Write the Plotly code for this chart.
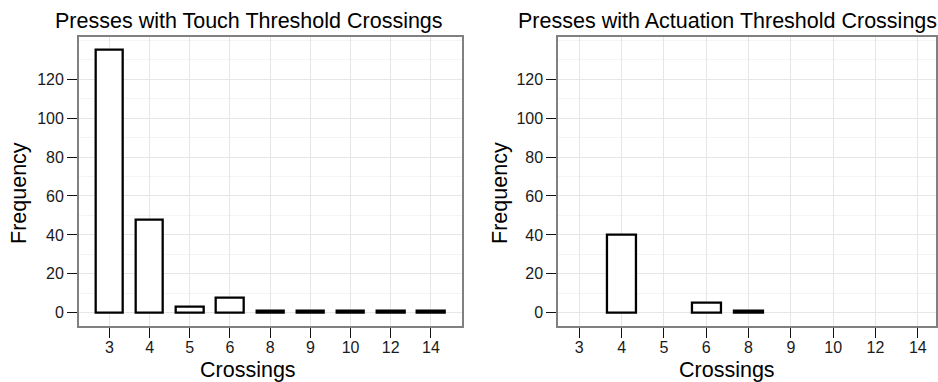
import plotly.graph_objects as go

categories = ["3", "4", "5", "6", "8", "9", "10", "12", "14"]
touch_counts = [135, 48, 3, 8, 1, 1, 1, 1, 1]
actuation_counts = [0, 40, 0, 5, 1, 0, 0, 0, 0]
y_ticks = [0, 20, 40, 60, 80, 100, 120]

W, H = 938, 382
FONT = "Liberation Sans"

def px_x(v):
    return v / W

def px_y(v):
    return 1 - v / H

def nonzero(vals):
    # empty categories draw no bar at all
    return [v if v > 0 else None for v in vals]

fig = go.Figure()
fig.add_trace(go.Bar(x=categories, y=nonzero(touch_counts), width=0.68,
                     marker=dict(color="white", line=dict(color="black", width=2.3)),
                     xaxis="x", yaxis="y", showlegend=False))
fig.add_trace(go.Bar(x=categories, y=nonzero(actuation_counts), width=0.68,
                     marker=dict(color="white", line=dict(color="black", width=2.3)),
                     xaxis="x2", yaxis="y2", showlegend=False))

top_px, bot_px = 36.7, 326.0
ydom = [px_y(bot_px), px_y(top_px)]

xcommon = dict(type="category", categoryorder="array", categoryarray=categories,
               showgrid=True, gridcolor="#e6e6e6", gridwidth=1.3,
               showline=True, mirror=True, linecolor="#808080", linewidth=1.6,
               ticks="outside", ticklen=10, tickwidth=1.1, tickcolor="#111111",
               ticklabelstandoff=-4,
               tickfont=dict(family=FONT, size=16, color="#1a1a1a"),
               zeroline=False, fixedrange=True)
ycommon = dict(range=[-6.75, 141.75], tickvals=y_ticks, domain=ydom,
               showgrid=True, gridcolor="#e6e6e6", gridwidth=1.3,
               minor=dict(dtick=10, tick0=0, showgrid=True, gridcolor="#f4f4f4", gridwidth=1, ticks=""),
               showline=True, mirror=True, linecolor="#808080", linewidth=1.6,
               ticks="outside", ticklen=10, tickwidth=1.1, tickcolor="#111111",
               tickfont=dict(family=FONT, size=16, color="#1a1a1a"),
               zeroline=False, fixedrange=True)

fig.update_layout(
    width=W, height=H,
    margin=dict(l=0, r=0, t=0, b=0),
    paper_bgcolor="white", plot_bgcolor="white",
    font=dict(family=FONT, color="black"),
    xaxis=dict(xcommon, domain=[px_x(79), px_x(462.5)], range=[-0.76, 8.76], anchor="y"),
    yaxis=dict(ycommon, anchor="x"),
    xaxis2=dict(xcommon, domain=[px_x(559.3), 1.0], range=[-0.5, 8.43], anchor="y2"),
    yaxis2=dict(ycommon, anchor="x2"),
    bargap=0,
)

ann = []
def text(t, x, y, size=21.5, angle=0):
    ann.append(dict(text=t, x=px_x(x), y=px_y(y), xref="paper", yref="paper",
                    xanchor="center", yanchor="middle", showarrow=False, textangle=angle,
                    font=dict(family=FONT, size=size, color="black")))

text("Presses with Touch Threshold Crossings", 250, 21)
text("Presses with Actuation Threshold Crossings", 729, 21)
text("Crossings", 249, 370)
text("Crossings", 729, 370)
text("Frequency", 19, 193, angle=-90)
text("Frequency", 501, 193, angle=-90)
fig.update_layout(annotations=ann)

fig.write_html("out.html")
